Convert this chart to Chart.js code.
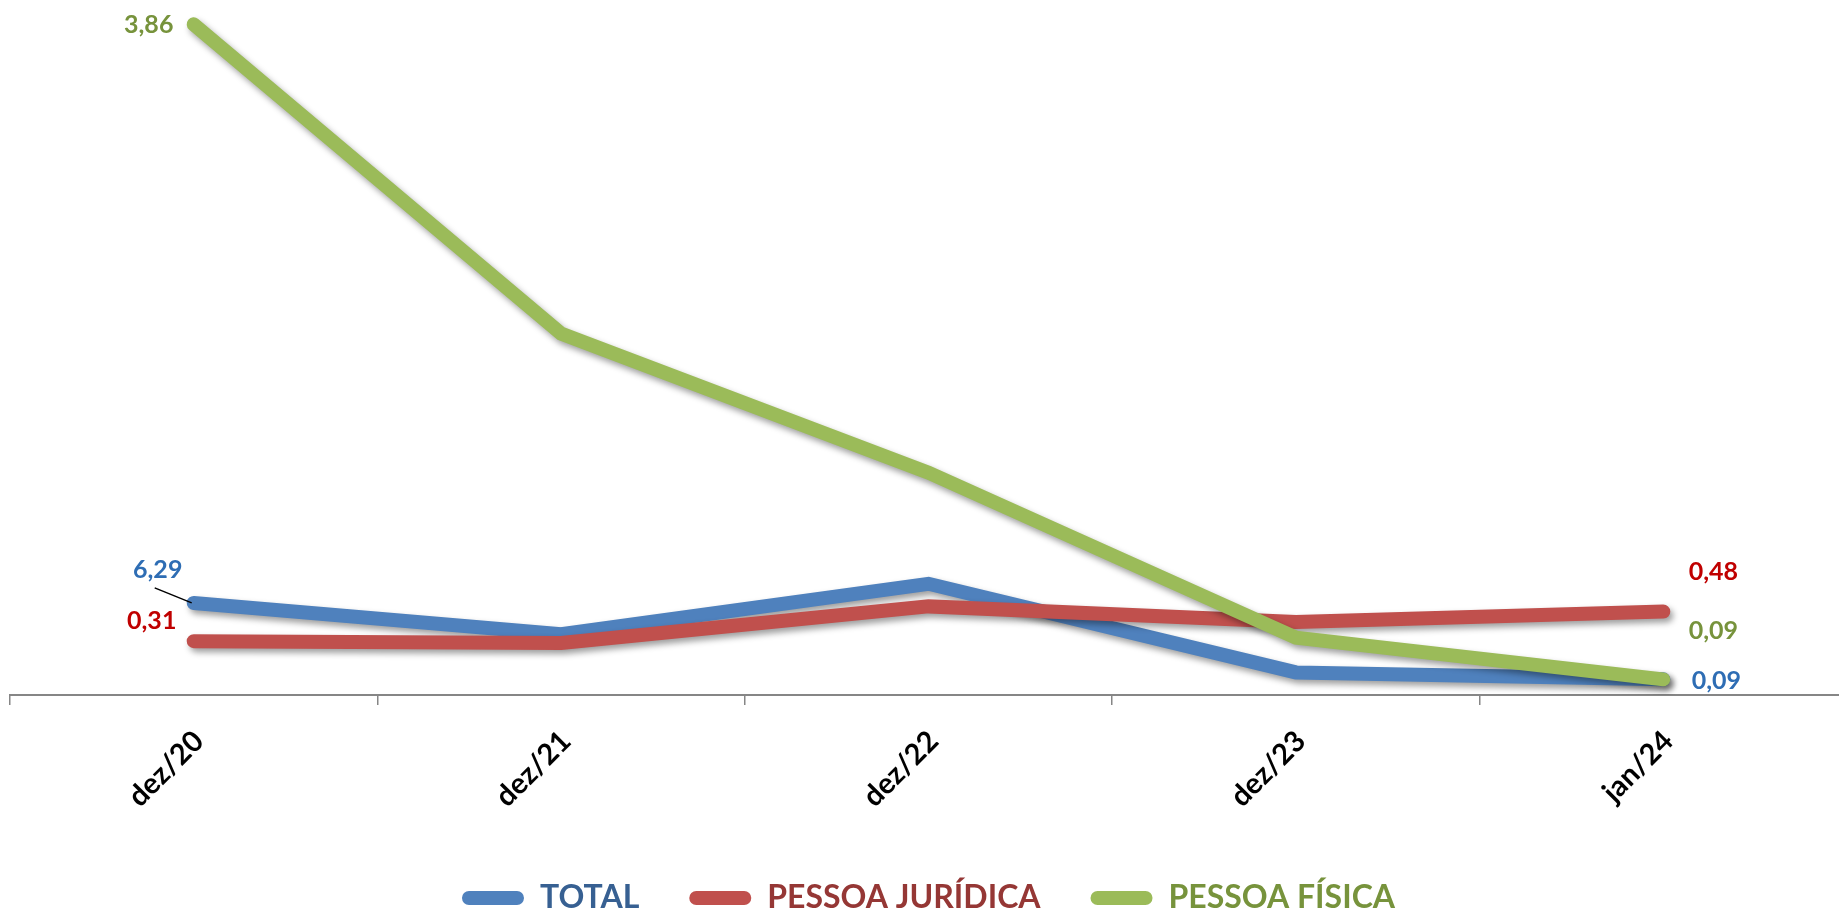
<!DOCTYPE html>
<html><head><meta charset="utf-8">
<script src="https://cdn.jsdelivr.net/npm/chart.js@4/dist/chart.umd.min.js"></script>
<style>
html,body{margin:0;padding:0;background:#fff;overflow:hidden;}
#wrap{position:relative;width:1847px;height:915px;}
</style></head><body>
<div id="wrap"><canvas id="c"></canvas></div>
<script>
// ---- data ----
const categories = ['dez/20', 'dez/21', 'dez/22', 'dez/23', 'jan/24'];
const seriesNames = ['TOTAL', 'PESSOA JURÍDICA', 'PESSOA FÍSICA'];
const totalValues = [0.53, 0.35, 0.64, 0.13, 0.09];
const pjValues    = [0.31, 0.30, 0.51, 0.42, 0.48];
const pfValues    = [3.86, 2.08, 1.28, 0.33, 0.09];
const totalLabels = ['6,29', '', '', '', '0,09'];
const pjLabels    = ['0,31', '', '', '', '0,48'];
const pfLabels    = ['3,86', '', '', '', '0,09'];
const yMin = 0, yMax = 4;

// ---- styles ----
const lineColors   = ['#4F81BD', '#C0504D', '#9BBB59'];
const legendColors = ['#376092', '#953735', '#77933C'];
const labelColors  = ['#2E6DB4', '#C00000', '#77933C'];
const allLabels = [totalLabels, pjLabels, pfLabels];
// label offsets relative to the point (first, last)
const labelOffsets = [
  {0: {dx: -36, dy: -33, leader: true}, 4: {dx: 53, dy: 2}},
  {0: {dx: -42, dy: -20}, 4: {dx: 50, dy: -40}},
  {0: {dx: -45, dy: 1},   4: {dx: 50, dy: -48}}
];
const FONT = 'Lato, "Open Sans", sans-serif';

const shadowPlugin = {
  id: 'shadow',
  beforeDatasetDraw(chart) {
    const ctx = chart.ctx;
    ctx.save();
    ctx.shadowColor = 'rgba(0,0,0,0.38)';
    ctx.shadowBlur = 6;
    ctx.shadowOffsetX = 3;
    ctx.shadowOffsetY = 4;
  },
  afterDatasetDraw(chart) { chart.ctx.restore(); }
};

const labelPlugin = {
  id: 'pointLabels',
  afterDatasetsDraw(chart) {
    const ctx = chart.ctx;
    ctx.save();
    ctx.font = 'bold 25px ' + FONT;
    ctx.textAlign = 'center';
    ctx.textBaseline = 'middle';
    chart.data.datasets.forEach((ds, di) => {
      const meta = chart.getDatasetMeta(di);
      allLabels[di].forEach((txt, i) => {
        if (!txt) return;
        const pt = meta.data[i];
        const off = labelOffsets[di][i] || {dx: 0, dy: -20};
        if (off.leader) {
          ctx.strokeStyle = '#000';
          ctx.lineWidth = 1.5;
          ctx.beginPath();
          ctx.moveTo(pt.x - 39, pt.y - 15);
          ctx.lineTo(pt.x - 2, pt.y);
          ctx.stroke();
        }
        ctx.fillStyle = labelColors[di];
        ctx.fillText(txt, pt.x + off.dx, pt.y + off.dy);
      });
    });
    ctx.restore();
  }
};

const valueSets = [totalValues, pjValues, pfValues];
const datasets = seriesNames.map((name, i) => ({
  label: name,
  data: valueSets[i],
  borderColor: lineColors[i],
  backgroundColor: lineColors[i],
  borderWidth: 14,
  borderCapStyle: 'round',
  borderJoinStyle: 'miter',
  pointRadius: 0,
  pointHoverRadius: 0,
  tension: 0,
  fill: false,
  order: 3 - i
}));

new Chart(document.getElementById('c'), {
  type: 'line',
  data: { labels: categories, datasets },
  options: {
    responsive: true,
    maintainAspectRatio: false,
    animation: false,
    events: [],
    layout: { padding: { left: 10, right: 0, top: 0, bottom: -9 } },
    scales: {
      y: { display: false, min: yMin, max: yMax },
      x: {
        type: 'category',
        offset: true,
        grid: { offset: true, drawOnChartArea: false, drawTicks: true, tickLength: 10, color: '#868686', lineWidth: 1.5 },
        border: { display: true, color: '#868686', width: 2 },
        ticks: {
          color: '#000',
          font: { family: FONT, weight: 'bold', size: 29 },
          minRotation: 45, maxRotation: 45,
          autoSkip: false,
          padding: 19,
          labelOffset: 5
        },
        afterFit(scale) { scale.height = 137; }
      }
    },
    plugins: {
      tooltip: { enabled: false },
      legend: {
        position: 'bottom',
        labels: {
          font: { family: FONT, weight: 'bold', size: 32 },
          boxWidth: 62,
          boxHeight: 14,
          useBorderRadius: true,
          borderRadius: 7,
          padding: 50,
          sort: (a, b) => a.datasetIndex - b.datasetIndex,
          generateLabels(chart) {
            return chart.data.datasets.map((ds, i) => ({
              text: ds.label,
              fillStyle: lineColors[i],
              strokeStyle: lineColors[i],
              lineWidth: 0,
              borderRadius: 7,
              fontColor: legendColors[i],
              hidden: false,
              datasetIndex: i
            }));
          }
        }
      }
    }
  },
  plugins: [shadowPlugin, labelPlugin]
});
</script>
</body></html>
